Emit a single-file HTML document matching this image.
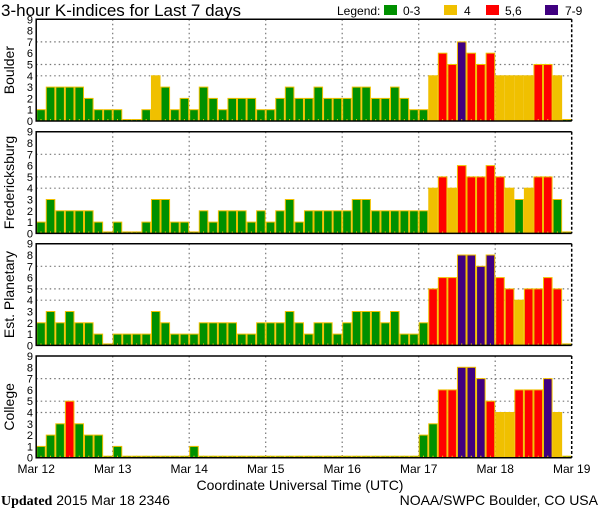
<!DOCTYPE html>
<html><head><meta charset="utf-8"><style>
html,body{margin:0;padding:0;background:#fff;}
svg{display:block;font-family:"Liberation Sans",sans-serif;}
</style></head><body>
<svg id="chart" width="600" height="510" viewBox="0 0 600 510" xmlns="http://www.w3.org/2000/svg">
<text x="1" y="16" font-size="17">3-hour K-indices for Last 7 days</text>
<g font-size="12">
<text x="337" y="15">Legend:</text>
<rect x="384" y="5" width="13" height="10" fill="#009000"/>
<text x="403" y="15">0-3</text>
<rect x="444" y="5" width="13" height="10" fill="#f0c000"/>
<text x="464" y="15">4</text>
<rect x="486" y="5" width="13" height="10" fill="#ff0000"/>
<text x="505" y="15">5,6</text>
<rect x="545" y="5" width="13" height="10" fill="#400080"/>
<text x="565" y="15">7-9</text>
</g>
<g id="panels"></g>
<text x="300" y="490" font-size="14" text-anchor="middle">Coordinate Universal Time (UTC)</text>
<text x="1" y="505" font-size="14"><tspan font-family="Liberation Serif,serif" font-weight="bold">Updated</tspan> 2015 Mar 18 2346</text>
<text x="598" y="505" font-size="14" text-anchor="end">NOAA/SWPC Boulder, CO USA</text>
</svg>
<script>
const stations = ["Boulder","Fredericksburg","Est. Planetary","College"];
const boulder = [1,3,3,3,3,2,1,1,1,0,0,1,4,3,1,2,1,3,2,1,2,2,2,1,1,2,3,2, 2,3,2,2,2,3,3,2,2,3,2,1,1,4,6,5,7,6,5,6,4,4,4,4,5,5,4,0];
const fredericksburg = [1,3,2,2,2,2,1,0,1,0,0,1,3,3,1,1,0,2,1,2,2,2,1,2,1,2,3,1, 2,2,2,2,2,3,3,2,2,2,2,2,2,4,5,4,6,5,5,6,5,4,3,4,5,5,3,0];
const planetary = [2,3,2,3,2,2,1,0,1,1,1,1,3,2,1,1,1,2,2,2,2,1,1,2,2,2,3,2, 1,2,2,1,2,3,3,3,2,3,1,1,2,5,6,6,8,8,7,8,6,5,4,5,5,6,5,0];
const college = [1,2,3,5,3,2,2,0,1,0,0,0,0,0,0,0,1,0,0,0,0,0,0,0,0,0,0,0, 0,0,0,0,0,0,0,0,0,0,0,0,2,3,6,6,8,8,7,5,4,4,6,6,6,7,4,0];
const dayLabels = ["Mar 12","Mar 13","Mar 14","Mar 15","Mar 16","Mar 17","Mar 18","Mar 19"];
const yTicks = [0,1,2,3,4,5,6,7,8,9];
const gridLevels = [4,5,7];
</script>
<script>
(function(){
const NS="http://www.w3.org/2000/svg";
const g=document.getElementById('panels');
const series=[boulder,fredericksburg,planetary,college];
const tops=[19.3,131.7,243.7,356];
const X0=36.2, X1=571.7, unit=11.3;
const nBars=56;
const bw=(X1-X0)/nBars;
const xs=i=>X0+i*bw;
const xDay=d=>X0+d*(X1-X0)/(dayLabels.length-1);
function mk(tag,attrs,parent){const e=document.createElementNS(NS,tag);for(const k in attrs)e.setAttribute(k,attrs[k]);(parent||g).appendChild(e);return e;}
function color(v){return v<=3?"#009000":v==4?"#f0c000":v<=6?"#ff0000":"#400080";}
series.forEach((data,p)=>{
  const top=tops[p], bot=top+9*unit;
  const ys=v=>bot-v*unit;
  const pg=mk('g',{});
  
  
  gridLevels.forEach(l=>{const ln=mk('line',{x1:X0,x2:X1,y1:ys(l),y2:ys(l),stroke:'#777','stroke-width':1.2,'stroke-dasharray':'1.5,3'},pg);
    });
  for(let d=1;d<dayLabels.length-1;d++){const ln=mk('line',{x1:xDay(d),x2:xDay(d),y1:top,y2:bot,stroke:'#777','stroke-width':1.2,'stroke-dasharray':'1.5,3'},pg);
    }
  data.forEach((v,i)=>{
    const h=v>0?v*unit:1.5;
    const r=mk('rect',{x:xs(i)+0.5,y:bot-h,width:bw-1,height:h,fill:color(v),stroke:'#f0c000','stroke-width':1},pg);
    
    
    const t=mk('line',{x1:xs(i)+bw*0.5,x2:xs(i)+bw*0.5,y1:bot-2,y2:bot,stroke:'#f0c000','stroke-width':1},pg);
    
    
  });
  const fr=mk('path',{d:`M${X1},${top} L${X0},${top} L${X0},${bot} L${X1},${bot}`,fill:'none',stroke:'#000','stroke-width':1.5},pg);
  
  const rb=mk('line',{x1:X1,x2:X1,y1:top,y2:bot,stroke:'#000','stroke-width':1.5,'stroke-dasharray':'3,2'},pg);
  
  yTicks.forEach(t=>{const tx=mk('text',{x:33,y:ys(t)+4,'font-size':11,'text-anchor':'end'},pg);tx.textContent=t;
    });
  const cy=(top+bot)/2;
  const yt=mk('text',{x:14,y:cy,'font-size':14,'text-anchor':'middle',transform:`rotate(-90 14 ${cy})`},pg);
  yt.textContent=stations[p];
  
});
dayLabels.forEach((lab,d)=>{const t=mk('text',{x:xDay(d),y:473,'font-size':12,'text-anchor':'middle'});t.textContent=lab;
  });
})();
</script>
</body></html>
